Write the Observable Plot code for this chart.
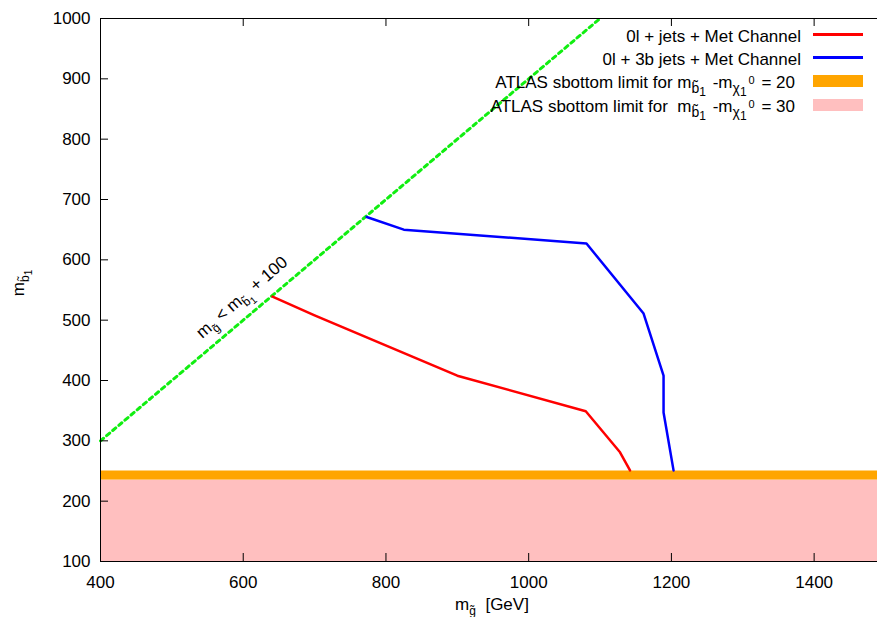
<!DOCTYPE html>
<html><head><meta charset="utf-8">
<script src="https://cdn.jsdelivr.net/npm/d3@7"></script>
<script src="https://cdn.jsdelivr.net/npm/@observablehq/plot@0.6"></script>
<style>
body{margin:0;background:#fff;font-family:"Liberation Sans",Arial,sans-serif;}
#wrap{position:relative;width:877px;height:617px;overflow:hidden;}
#wrap svg{max-width:none;}
.legend{position:absolute;left:300px;top:25px;width:563px;font-size:17px;color:#000;}
.row{height:23.33px;display:flex;justify-content:flex-end;align-items:center;white-space:pre;}
.sw{width:50px;margin-left:12px;position:relative;top:-2px;flex:none;}
.s1{font-size:14px;position:relative;top:5px;margin-right:2px;}
.s2{font-size:12px;position:relative;top:3px;}
.sp{font-size:11px;position:relative;top:-4px;margin-right:2px;}
.pad{padding-right:6px;}
</style></head><body><div id="wrap"></div>
<script>
// ---- data ----
const xTicks = [400, 600, 800, 1000, 1200, 1400];
const yTicks = [100, 200, 300, 400, 500, 600, 700, 800, 900, 1000];
const redX = [641, 700, 900, 1080, 1128, 1142];
const redY = [539, 508, 408, 349, 281, 251];
const blueX = [773, 825, 1081, 1161, 1189, 1189, 1203];
const blueY = [671, 650, 627, 511, 408, 347, 251];
const kinX = [400, 1100];
const kinY = [300, 1000];
const bandLow = [100, 235];
const bandHigh = [235, 250];
const bandColors = ["#ffbfbf", "#ffa500"];
const annX = [598];
const annY = [538];
const legendNames = [
  "0l + jets + Met Channel",
  "0l + 3b jets + Met Channel",
  'ATLAS sbottom limit for m<span class="s1">b\u0303<span class="s2">1</span></span> -m<span class="s1">\u03c7<span class="s2">1</span></span><span class="sp">0</span> = 20',
  'ATLAS sbottom limit for  m<span class="s1">b\u0303<span class="s2">1</span></span> -m<span class="s1">\u03c7<span class="s2">1</span></span><span class="sp">0</span> = 30'
];
const legendColors = ["#ff0000", "#0000ff", "#ffa500", "#ffbfbf"];
const legendKinds = ["line", "line", "box", "box"];

const pts = (xs, ys) => xs.map((x, i) => ({x, y: ys[i]}));
const bands = bandLow.map((lo, i) => ({lo, hi: bandHigh[i], c: bandColors[i]}));
const fmt = d => String(d);

const chart = Plot.plot({
  width: 877, height: 617,
  marginLeft: 100, marginRight: -8, marginTop: 18, marginBottom: 56,
  style: {fontFamily: "Liberation Sans, Arial, sans-serif", fontSize: "17px", background: "white", color: "black"},
  x: {domain: [400, 1500], axis: null},
  y: {domain: [100, 1000], axis: null},
  marks: [
    Plot.rect(bands, {y1: "lo", y2: "hi", fill: "c"}),
    Plot.line(pts(kinX, kinY), {x: "x", y: "y", stroke: "#11ee11", strokeWidth: 3, strokeDasharray: "4,4"}),
    Plot.line(pts(redX, redY), {x: "x", y: "y", stroke: "#ff0000", strokeWidth: 2.5}),
    Plot.line(pts(blueX, blueY), {x: "x", y: "y", stroke: "#0000ff", strokeWidth: 2.5}),
    Plot.text(pts(annX, annY), {x: "x", y: "y", text: () => "m", rotate: -41, fontSize: 17, fill: "black"}),
    Plot.tickX(xTicks, {x: d => d, insetTop: 535, stroke: "black"}),
    Plot.tickX(xTicks, {x: d => d, insetBottom: 535, stroke: "black"}),
    Plot.tickY(yTicks, {y: d => d, insetRight: 777, stroke: "black"}),
    Plot.frame({stroke: "black", strokeWidth: 1}),
    Plot.axisX(xTicks, {anchor: "bottom", tickSize: 0, tickPadding: 14, label: null, fontSize: 17, tickFormat: fmt}),
    Plot.axisY(yTicks, {anchor: "left", tickSize: 0, tickPadding: 10, label: null, fontSize: 17, tickFormat: fmt})
  ]
});
document.getElementById("wrap").appendChild(chart);

// ---- rich text helpers ----
const NS = "http://www.w3.org/2000/svg";
const LV = {0: {size: 17, off: 0}, 1: {size: 12, off: 5}, 2: {size: 10, off: 8}, 3: {size: 10, off: -3}};
function rich(el, parts) {
  el.textContent = "";
  let cur = 0;
  for (const [s, l] of parts) {
    const t = document.createElementNS(NS, "tspan");
    t.setAttribute("font-size", LV[l].size);
    t.setAttribute("dy", LV[l].off - cur);
    cur = LV[l].off;
    t.textContent = s;
    el.appendChild(t);
  }
}
const ann = chart.querySelector('g[aria-label="text"] text');
if (ann) {
  ann.setAttribute("text-anchor", "middle");
  rich(ann, [["m", 0], ["g\u0303", 1], [" < m", 0], ["b\u0303", 1], ["1", 2], [" + 100", 0]]);
}
const svg = d3.select(chart);
const xl = svg.append("text").attr("x", 492).attr("y", 610).attr("text-anchor", "middle")
  .attr("font-size", 17).attr("fill", "black").style("white-space", "pre");
rich(xl.node(), [["m", 0], ["g\u0303", 1], ["  [GeV]", 0]]);
const yl = svg.append("text").attr("transform", "translate(24,283) rotate(-90)").attr("text-anchor", "middle")
  .attr("font-size", 17).attr("fill", "black").style("white-space", "pre");
rich(yl.node(), [["m", 0], ["b\u0303", 1], ["1", 2]]);

// ---- legend ----
const lg = d3.select("#wrap").append("div").attr("class", "legend");
legendNames.forEach((n, i) => {
  const r = lg.append("div").attr("class", "row");
  r.append("span").attr("class", legendKinds[i] === "box" ? "pad" : null).html(n);
  r.append("span").attr("class", "sw")
    .style("height", legendKinds[i] === "line" ? "3px" : "12px")
    .style("background", legendColors[i]);
});
</script></body></html>
